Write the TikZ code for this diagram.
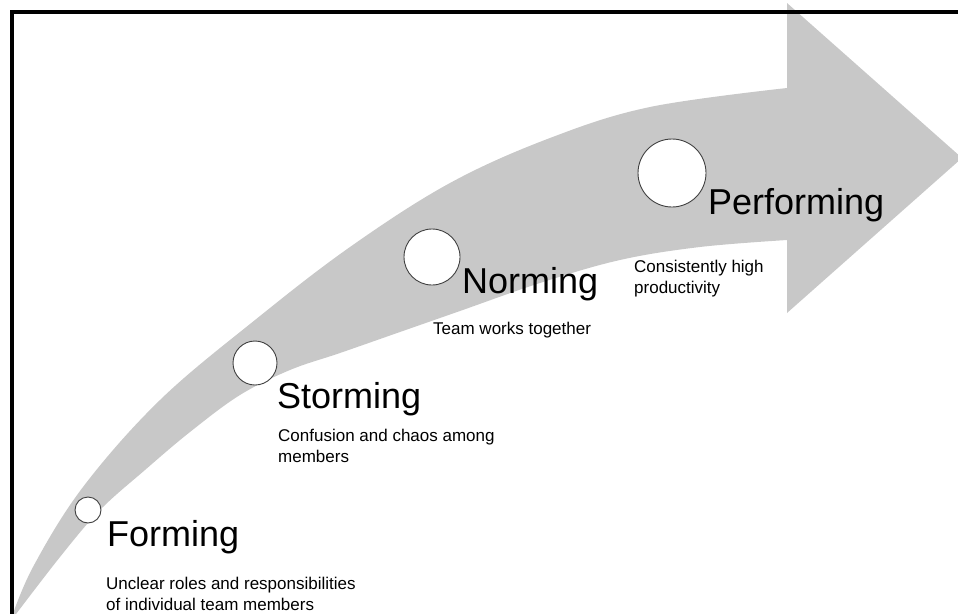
\documentclass[tikz,border=0pt]{standalone}
\usepackage{fontspec}
\setmainfont{Liberation Sans}
\usepackage{tikz}
\definecolor{arrowgray}{RGB}{200,200,200}
\colorlet{dotline}{black!75}

\tikzset{
  stagedot/.style={circle, draw=dotline, line width=0.9pt, fill=white, inner sep=0pt},
  stagetitle/.style={anchor=base west, inner sep=0pt, font=\fontsize{36}{40}\selectfont},
  stagenote/.style={anchor=base west, inner sep=0pt, align=left, font=\fontsize{17}{21}\selectfont}
}

\begin{document}
\begin{tikzpicture}[x=1pt, y=-1pt]
        \useasboundingbox (0,0) rectangle (958,613);
        \clip (0,0) rectangle (958,613);
        % the big curved arrow
        \fill[arrowgray] plot[smooth, tension=0.6] coordinates {(10,622) (33,567) (83,487) (160,400) (255,320) (350,247) (450,183) (550,138) (650,107) (787,88)}
            -- (787,3) -- (962,158) -- (787,313) --
            plot[smooth, tension=0.6] coordinates {(787,240) (700,247) (620,260) (540,283) (460,311) (400,332) (340,353) (290,370) (240,395) (190,432) (145,470) (100,510) (60,557) (10,622)}
            -- cycle;
        % frame
        \draw[line width=4pt] (11.5,620) -- (11.5,11.5) -- (970,11.5);
        % stages
        \foreach \name/\label/\cx/\cy/\r/\tx/\ty in {forming/Forming/88/510/13/107/546,
                storming/Storming/255/363/22/277/408,
                norming/Norming/432/257/28/462/293,
                performing/Performing/672/173/34/708/214}{
            \node[stagedot, minimum size=2*\r] (dot\name) at (\cx,\cy) {};
            \node[stagetitle] (\name) at (\tx,\ty) {\label};
        }
        % notes (base = last line)
        \node[stagenote] (formingnote) at (106,610) {Unclear roles and responsibilities\\of individual team members};
        \node[stagenote] (stormingnote) at (278,462) {Confusion and chaos among\\members};
        \node[stagenote] (normingnote) at (433,334) {Team works together};
        \node[stagenote] (performingnote) at (634,293) {Consistently high\\productivity};
    \end{tikzpicture}
\end{document}
